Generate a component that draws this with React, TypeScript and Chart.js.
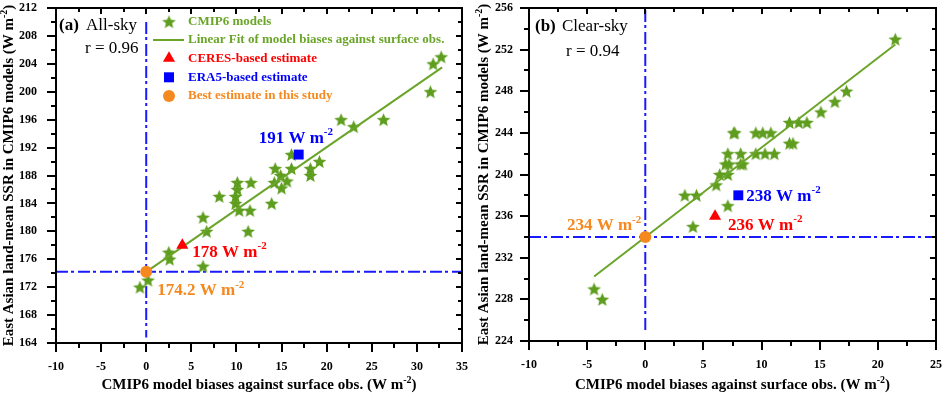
import React, { useEffect, useRef } from 'react';
import { Chart, registerables } from 'chart.js';
Chart.register(...registerables);

// ---------------- data ----------------
// (a) All-sky
const allSkyBias = [-0.7, 0.2, 2.5, 2.6, 6.3, 6.3, 6.7, 8.1, 10.1, 10.1, 9.9, 9.9, 10.3, 11.6, 11.5, 11.3, 13.9, 14.3, 14.2, 14.9, 15.6, 15.0, 16.1, 16.1, 18.2, 18.2, 19.2, 21.6, 23.0, 26.3, 31.5, 31.8, 32.7];
const allSkySSR = [172, 173, 177, 176, 175, 182, 180, 185, 187, 186, 185, 184, 183, 187, 183, 180, 184, 189, 187, 188, 187.2, 186.2, 189, 191, 189, 188, 190, 196, 195, 196, 200, 204, 205];
const allSkyFitX = [0, 32.8];
const allSkyFitY = [174.2, 203.5];
const allSkyCeres = [4.0, 178];
const allSkyEra5 = [16.9, 191];
const allSkyBest = [0, 174.2];
const allSkyXTicks = [-10, -5, 0, 5, 10, 15, 20, 25, 30, 35];
const allSkyYTicks = [164, 168, 172, 176, 180, 184, 188, 192, 196, 200, 204, 208, 212];

// (b) Clear-sky
const clearSkyBias = [-4.4, -3.7, 3.4, 4.4, 4.1, 6.1, 6.4, 7.1, 6.9, 7.2, 7.1, 7.1, 7.6, 7.7, 8.2, 8.2, 8.4, 9.5, 10.1, 10.8, 9.5, 10.3, 11.1, 12.4, 13.2, 13.9, 12.4, 12.7, 15.1, 16.3, 17.3, 21.5];
const clearSkySSR = [229, 228, 238, 238, 235, 239, 240, 240, 241, 241, 242, 237, 244, 244, 242, 241, 241, 244, 244, 244, 242, 242, 242, 245, 245, 245, 243, 243, 246, 247, 248, 253];
const clearSkyFitX = [-4.4, 21.5];
const clearSkyFitY = [230.2, 252.5];
const clearSkyCeres = [6.0, 236];
const clearSkyEra5 = [8.0, 238];
const clearSkyBest = [0, 234];
const clearSkyXTicks = [-10, -5, 0, 5, 10, 15, 20, 25];
const clearSkyYTicks = [224, 228, 232, 236, 240, 244, 248, 252, 256];

const legendLabels = ['CMIP6 models', 'Linear Fit of model biases against surface obs.', 'CERES-based estimate', 'ERA5-based estimate', 'Best estimate in this study'];

// ---------------- styles ----------------
const SERIF = '"Liberation Serif", "Times New Roman", serif';
const STAR = '#5e9d1e';
const FIT = '#6aa52a';
const RED = '#ff0000';
const BLUE = '#0000ff';
const DASH_BLUE = '#1a1aff';
const ORANGE = '#f5891f';

function makeStar(size: number, color: string) {
  const c = document.createElement('canvas');
  c.width = size; c.height = size;
  const ctx = c.getContext('2d')!;
  const cx = size / 2, cy = size / 2 + 0.6, R = size / 2 - 0.3, r = R * 0.45;
  ctx.beginPath();
  for (let i = 0; i < 10; i++) {
    const a = -Math.PI / 2 + (i * Math.PI) / 5;
    const rad = i % 2 === 0 ? R : r;
    ctx.lineTo(cx + rad * Math.cos(a), cy + rad * Math.sin(a));
  }
  ctx.closePath();
  ctx.fillStyle = color;
  ctx.fill();
  return c;
}

type Part = { t: string; sup?: boolean };
function drawRich(ctx: CanvasRenderingContext2D, parts: Part[], x: number, y: number, font: string, supFont: string, align: 'left' | 'center' | 'right', rise: number, baseline: CanvasTextBaseline = 'middle') {
  let w = 0;
  const ws: number[] = [];
  for (const p of parts) {
    ctx.font = p.sup ? supFont : font;
    const m = ctx.measureText(p.t).width;
    ws.push(m); w += m;
  }
  let cx = align === 'left' ? x : align === 'center' ? x - w / 2 : x - w;
  ctx.textAlign = 'left';
  ctx.textBaseline = baseline;
  parts.forEach((p, i) => {
    ctx.font = p.sup ? supFont : font;
    ctx.fillText(p.t, cx, p.sup ? y - rise : y);
    cx += ws[i];
  });
}

type Ann = { v: string; color: string; at: number[]; dx: number; dy: number; align: 'left' | 'right' };
type Panel = {
  width: number;
  xMin: number; xMax: number; xMinor: number; xMajor: number;
  yMin: number; yMax: number; yMinor: number; yMajor: number;
  xTicks: number[]; yTicks: number[];
  bias: number[]; ssr: number[];
  fitX: number[]; fitY: number[];
  ceres: number[]; era5: number[]; best: number[];
  vTop: number; vBottom: number;
  padRight: number; padTop: number; yAxisW: number; xAxisH: number; yPad: number; xPad: number;
  yTitleX: number;
  tag: string; sky: string; tagX: number; skyX: number; skyY: number; r: string; rX: number; rY: number;
  legend: boolean;
  anns: Ann[];
};

const axisTitleY: Part[] = [{ t: 'East Asian land-mean SSR in CMIP6 models (W m' }, { t: '-2', sup: true }, { t: ')' }];
const axisTitleX: Part[] = [{ t: 'CMIP6 model biases against surface obs. (W m' }, { t: '-2', sup: true }, { t: ')' }];

function decoPlugin(p: Panel, starImg: HTMLCanvasElement) {
  return {
    id: 'deco',
    afterDatasetsDraw(chart: any) {
      const ctx: CanvasRenderingContext2D = chart.ctx;
      const { left, right, top, bottom } = chart.chartArea;
      const xs = chart.scales.x, ys = chart.scales.y;
      ctx.save();
      ctx.strokeStyle = '#000';
      ctx.lineWidth = 2;
      ctx.strokeRect(left, top, right - left, bottom - top);
      ctx.beginPath();
      const nx = Math.round((p.xMax - p.xMin) / p.xMinor);
      for (let i = 0; i <= nx; i++) {
        const v = p.xMin + i * p.xMinor;
        const major = Math.abs((v - p.xMin) / p.xMajor - Math.round((v - p.xMin) / p.xMajor)) < 1e-6;
        const px = Math.round(xs.getPixelForValue(v));
        ctx.moveTo(px, bottom); ctx.lineTo(px, bottom + (major ? 9 : 5));
        ctx.moveTo(px, top); ctx.lineTo(px, top + (major ? 6 : 4));
      }
      const ny = Math.round((p.yMax - p.yMin) / p.yMinor);
      for (let i = 0; i <= ny; i++) {
        const v = p.yMin + i * p.yMinor;
        const major = Math.abs((v - p.yMin) / p.yMajor - Math.round((v - p.yMin) / p.yMajor)) < 1e-6;
        const py = Math.round(ys.getPixelForValue(v));
        ctx.moveTo(left, py); ctx.lineTo(left - (major ? 9 : 5), py);
        ctx.moveTo(right, py); ctx.lineTo(right - (major ? 6 : 4), py);
      }
      ctx.stroke();
      ctx.restore();
    },
    afterDraw(chart: any) {
      const ctx: CanvasRenderingContext2D = chart.ctx;
      const { left, right, top, bottom } = chart.chartArea;
      const xs = chart.scales.x, ys = chart.scales.y;
      ctx.save();
      ctx.fillStyle = '#000';
      // axis titles
      drawRich(ctx, axisTitleX, (left + right) / 2, 389, `bold 15px ${SERIF}`, `bold 10px ${SERIF}`, 'center', 6, 'alphabetic');
      ctx.save();
      ctx.translate(p.yTitleX, (top + bottom) / 2);
      ctx.rotate(-Math.PI / 2);
      drawRich(ctx, axisTitleY, 0, 0, `bold 15px ${SERIF}`, `bold 10px ${SERIF}`, 'center', 6, 'alphabetic');
      ctx.restore();
      // panel label
      ctx.fillStyle = '#000';
      ctx.textBaseline = 'alphabetic';
      ctx.textAlign = 'left';
      ctx.font = `bold 17px ${SERIF}`;
      ctx.fillText(p.tag, p.tagX, p.skyY);
      ctx.font = `17px ${SERIF}`;
      ctx.fillText(p.sky, p.skyX, p.skyY);
      ctx.fillText(p.r, p.rX, p.rY);
      // annotations
      for (const a of p.anns) {
        const px = xs.getPixelForValue(a.at[0]) + a.dx;
        const py = ys.getPixelForValue(a.at[1]) + a.dy;
        ctx.fillStyle = a.color;
        drawRich(ctx, [{ t: a.v + ' W m' }, { t: '-2', sup: true }], px, py, `bold 17px ${SERIF}`, `bold 11px ${SERIF}`, a.align, 6);
      }
      // legend
      if (p.legend) {
        const mx = 169, tx = 188;
        const rows = [21.7, 40, 58.3, 77.3, 96];
        const cols = [FIT, FIT, RED, BLUE, ORANGE];
        ctx.drawImage(starImg, mx - starImg.width / 2, rows[0] - starImg.height / 2);
        ctx.strokeStyle = FIT; ctx.lineWidth = 2;
        ctx.beginPath(); ctx.moveTo(153, rows[1]); ctx.lineTo(184, rows[1]); ctx.stroke();
        ctx.fillStyle = RED;
        ctx.beginPath();
        const tr = 7;
        ctx.moveTo(mx, rows[2] - tr);
        ctx.lineTo(mx + tr * Math.cos(Math.PI / 6), rows[2] + tr / 2);
        ctx.lineTo(mx - tr * Math.cos(Math.PI / 6), rows[2] + tr / 2);
        ctx.closePath(); ctx.fill();
        ctx.fillStyle = BLUE;
        ctx.fillRect(mx - 5, rows[3] - 5, 10, 10);
        ctx.fillStyle = ORANGE;
        ctx.beginPath(); ctx.arc(mx, rows[4], 6, 0, Math.PI * 2); ctx.fill();
        ctx.font = `bold 13px ${SERIF}`;
        ctx.textBaseline = 'middle';
        ctx.textAlign = 'left';
        legendLabels.forEach((l, i) => {
          ctx.fillStyle = cols[i];
          ctx.fillText(l, tx, rows[i]);
        });
      }
      ctx.restore();
    },
  };
}

function buildChart(canvas: HTMLCanvasElement, p: Panel) {
  const starImg = makeStar(15, STAR);
  const pts = (xs: number[], ys: number[]) => xs.map((x, i) => ({ x, y: ys[i] }));
  const tickFont = { family: SERIF, size: 12, weight: 'bold' as const };
  const cfg: any = {
    type: 'scatter',
    data: {
      datasets: [
        { type: 'line', data: [{ x: p.xMin, y: p.best[1] }, { x: p.xMax, y: p.best[1] }], borderColor: DASH_BLUE, borderWidth: 2, borderDash: [12, 3, 3, 4], pointRadius: 0, fill: false, order: 10 },
        { type: 'line', data: [{ x: 0, y: p.vTop }, { x: 0, y: p.vBottom }], borderColor: DASH_BLUE, borderWidth: 2, borderDash: [12, 3, 3, 4], pointRadius: 0, fill: false, order: 10 },
        { data: pts(p.bias, p.ssr), pointStyle: starImg, pointRadius: 7, order: 8 },
        { type: 'line', data: pts(p.fitX, p.fitY), borderColor: FIT, borderWidth: 2, pointRadius: 0, fill: false, order: 7 },
        { data: [{ x: p.ceres[0], y: p.ceres[1] }], pointStyle: 'triangle', pointRadius: 7, backgroundColor: RED, borderColor: RED, borderWidth: 0, order: 3 },
        { data: [{ x: p.era5[0], y: p.era5[1] }], pointStyle: 'rect', pointRadius: 7, backgroundColor: BLUE, borderColor: BLUE, borderWidth: 0, order: 2 },
        { data: [{ x: p.best[0], y: p.best[1] }], pointStyle: 'circle', pointRadius: 6, backgroundColor: ORANGE, borderColor: ORANGE, borderWidth: 0, order: 1 },
      ],
    },
    options: {
      animation: false,
      responsive: false,
      events: [],
      layout: { padding: { left: 0, right: p.padRight, top: p.padTop, bottom: 0 } },
      plugins: { legend: { display: false }, tooltip: { enabled: false } },
      scales: {
        x: {
          type: 'linear', min: p.xMin, max: p.xMax,
          afterBuildTicks: (s: any) => { s.ticks = p.xTicks.map((v) => ({ value: v })); },
          afterFit: (s: any) => { s.height = p.xAxisH; s.paddingLeft = 0; s.paddingRight = 0; s.paddingTop = 0; s.paddingBottom = 0; },
          grid: { display: false, drawTicks: false }, border: { display: false },
          ticks: { font: tickFont, color: '#000', padding: p.xPad, maxRotation: 0, autoSkip: false, callback: (v: any) => String(v) },
        },
        y: {
          type: 'linear', min: p.yMin, max: p.yMax,
          afterBuildTicks: (s: any) => { s.ticks = p.yTicks.map((v) => ({ value: v })); },
          afterFit: (s: any) => { s.width = p.yAxisW; s.paddingLeft = 0; s.paddingRight = 0; s.paddingTop = 0; s.paddingBottom = 0; },
          grid: { display: false, drawTicks: false }, border: { display: false },
          ticks: { font: tickFont, color: '#000', padding: p.yPad, autoSkip: false, callback: (v: any) => String(v) },
        },
      },
    },
    plugins: [decoPlugin(p, starImg)],
  };
  return new Chart(canvas, cfg);
}

const panelA: Panel = {
  width: 470,
  xMin: -10, xMax: 35, xMinor: 2.5, xMajor: 5,
  yMin: 164, yMax: 212, yMinor: 2, yMajor: 4,
  xTicks: allSkyXTicks, yTicks: allSkyYTicks,
  bias: allSkyBias, ssr: allSkySSR, fitX: allSkyFitX, fitY: allSkyFitY,
  ceres: allSkyCeres, era5: allSkyEra5, best: allSkyBest,
  vTop: 210, vBottom: 164.8,
  padRight: 6, padTop: 6, yAxisW: 56, xAxisH: 51, yPad: 19, xPad: 17,
  yTitleX: 13,
  tag: '(a)', sky: 'All-sky', tagX: 59, skyX: 86, skyY: 30, r: 'r = 0.96', rX: 85, rY: 53,
  legend: true,
  anns: [
    { v: '191', color: BLUE, at: allSkyEra5, dx: -40, dy: -16, align: 'left' },
    { v: '178', color: RED, at: allSkyCeres, dx: 10, dy: 7, align: 'left' },
    { v: '174.2', color: ORANGE, at: allSkyBest, dx: 11, dy: 19, align: 'left' },
  ],
};

const panelB: Panel = {
  width: 474,
  xMin: -10, xMax: 25, xMinor: 2.5, xMajor: 5,
  yMin: 224, yMax: 256, yMinor: 2, yMajor: 4,
  xTicks: clearSkyXTicks, yTicks: clearSkyYTicks,
  bias: clearSkyBias, ssr: clearSkySSR, fitX: clearSkyFitX, fitY: clearSkyFitY,
  ceres: clearSkyCeres, era5: clearSkyEra5, best: clearSkyBest,
  vTop: 255.8, vBottom: 224.9,
  padRight: 8, padTop: 5, yAxisW: 59, xAxisH: 53, yPad: 16, xPad: 17,
  yTitleX: 18,
  tag: '(b)', sky: 'Clear-sky', tagX: 65, skyX: 92, skyY: 31, r: 'r = 0.94', rX: 96, rY: 56,
  legend: false,
  anns: [
    { v: '234', color: ORANGE, at: clearSkyBest, dx: -4, dy: -11, align: 'right' },
    { v: '238', color: BLUE, at: clearSkyEra5, dx: 8, dy: 1, align: 'left' },
    { v: '236', color: RED, at: clearSkyCeres, dx: 13, dy: 9, align: 'left' },
  ],
};

export default function App() {
  const refA = useRef<HTMLCanvasElement>(null);
  const refB = useRef<HTMLCanvasElement>(null);
  useEffect(() => {
    const a = buildChart(refA.current!, panelA);
    const b = buildChart(refB.current!, panelB);
    return () => { a.destroy(); b.destroy(); };
  }, []);
  return (
    <div style={{ position: 'fixed', left: 0, top: 0, width: 944, height: 394, background: '#fff' }}>
      <canvas ref={refA} width={470} height={394} style={{ position: 'absolute', left: 0, top: 0, width: 470, height: 394 }} />
      <canvas ref={refB} width={474} height={394} style={{ position: 'absolute', left: 470, top: 0, width: 474, height: 394 }} />
    </div>
  );
}
